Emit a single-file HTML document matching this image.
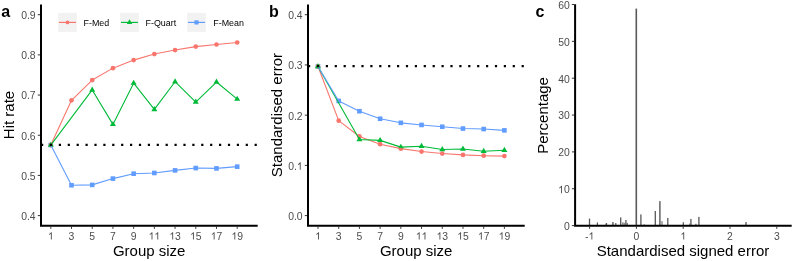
<!DOCTYPE html><html><head><meta charset="utf-8"><style>
html,body{margin:0;padding:0;background:#fff;width:793px;height:261px;overflow:hidden}
svg{display:block;will-change:transform}
text{font-family:"Liberation Sans",sans-serif}
.tk{font-size:10.4px;fill:#4d4d4d}
.ti{font-size:15px;fill:#000}
.lg{font-size:8.9px;fill:#000}
.pl{font-size:16px;font-weight:bold;fill:#000}
</style></head><body>
<svg width="793" height="261" viewBox="0 0 793 261">
<rect width="793" height="261" fill="#fff"/>
<line x1="50.8" y1="226.8" x2="50.8" y2="228.8" stroke="#333333" stroke-width="1"/>
<path transform="translate(47.91,239.6) scale(10.4)" d="M0.3726,0 L0.285,0 L0.285,-0.56 Q0.2,-0.49 0.109,-0.457 L0.109,-0.542 Q0.24,-0.6 0.306,-0.716 L0.3726,-0.716 Z" fill="#4d4d4d"/>
<line x1="71.51" y1="226.8" x2="71.51" y2="228.8" stroke="#333333" stroke-width="1"/>
<text x="68.62" y="239.6" class="tk">3</text>
<line x1="92.22" y1="226.8" x2="92.22" y2="228.8" stroke="#333333" stroke-width="1"/>
<text x="89.33" y="239.6" class="tk">5</text>
<line x1="112.93" y1="226.8" x2="112.93" y2="228.8" stroke="#333333" stroke-width="1"/>
<text x="110.04" y="239.6" class="tk">7</text>
<line x1="133.64" y1="226.8" x2="133.64" y2="228.8" stroke="#333333" stroke-width="1"/>
<text x="130.75" y="239.6" class="tk">9</text>
<line x1="154.35" y1="226.8" x2="154.35" y2="228.8" stroke="#333333" stroke-width="1"/>
<path transform="translate(148.57,239.6) scale(10.4)" d="M0.3726,0 L0.285,0 L0.285,-0.56 Q0.2,-0.49 0.109,-0.457 L0.109,-0.542 Q0.24,-0.6 0.306,-0.716 L0.3726,-0.716 Z" fill="#4d4d4d"/>
<path transform="translate(154.35,239.6) scale(10.4)" d="M0.3726,0 L0.285,0 L0.285,-0.56 Q0.2,-0.49 0.109,-0.457 L0.109,-0.542 Q0.24,-0.6 0.306,-0.716 L0.3726,-0.716 Z" fill="#4d4d4d"/>
<line x1="175.06" y1="226.8" x2="175.06" y2="228.8" stroke="#333333" stroke-width="1"/>
<path transform="translate(169.28,239.6) scale(10.4)" d="M0.3726,0 L0.285,0 L0.285,-0.56 Q0.2,-0.49 0.109,-0.457 L0.109,-0.542 Q0.24,-0.6 0.306,-0.716 L0.3726,-0.716 Z" fill="#4d4d4d"/>
<text x="175.06" y="239.6" class="tk">3</text>
<line x1="195.77" y1="226.8" x2="195.77" y2="228.8" stroke="#333333" stroke-width="1"/>
<path transform="translate(189.99,239.6) scale(10.4)" d="M0.3726,0 L0.285,0 L0.285,-0.56 Q0.2,-0.49 0.109,-0.457 L0.109,-0.542 Q0.24,-0.6 0.306,-0.716 L0.3726,-0.716 Z" fill="#4d4d4d"/>
<text x="195.77" y="239.6" class="tk">5</text>
<line x1="216.48" y1="226.8" x2="216.48" y2="228.8" stroke="#333333" stroke-width="1"/>
<path transform="translate(210.7,239.6) scale(10.4)" d="M0.3726,0 L0.285,0 L0.285,-0.56 Q0.2,-0.49 0.109,-0.457 L0.109,-0.542 Q0.24,-0.6 0.306,-0.716 L0.3726,-0.716 Z" fill="#4d4d4d"/>
<text x="216.48" y="239.6" class="tk">7</text>
<line x1="237.19" y1="226.8" x2="237.19" y2="228.8" stroke="#333333" stroke-width="1"/>
<path transform="translate(231.41,239.6) scale(10.4)" d="M0.3726,0 L0.285,0 L0.285,-0.56 Q0.2,-0.49 0.109,-0.457 L0.109,-0.542 Q0.24,-0.6 0.306,-0.716 L0.3726,-0.716 Z" fill="#4d4d4d"/>
<text x="237.19" y="239.6" class="tk">9</text>
<line x1="40" y1="14.7" x2="37.8" y2="14.7" stroke="#333333" stroke-width="1"/>
<text x="21.14 26.93 29.82" y="19.1" class="tk">0.9</text>
<line x1="40" y1="54.88" x2="37.8" y2="54.88" stroke="#333333" stroke-width="1"/>
<text x="21.14 26.93 29.82" y="59.28" class="tk">0.8</text>
<line x1="40" y1="95.06" x2="37.8" y2="95.06" stroke="#333333" stroke-width="1"/>
<text x="21.14 26.93 29.82" y="99.46" class="tk">0.7</text>
<line x1="40" y1="135.24" x2="37.8" y2="135.24" stroke="#333333" stroke-width="1"/>
<text x="21.14 26.93 29.82" y="139.64" class="tk">0.6</text>
<line x1="40" y1="175.42" x2="37.8" y2="175.42" stroke="#333333" stroke-width="1"/>
<text x="21.14 26.93 29.82" y="179.82" class="tk">0.5</text>
<line x1="40" y1="215.6" x2="37.8" y2="215.6" stroke="#333333" stroke-width="1"/>
<text x="21.14 26.93 29.82" y="220" class="tk">0.4</text>
<path d="M41,4.6 L41,225.8 L257.7,225.8" fill="none" stroke="#000" stroke-width="2" stroke-linejoin="miter" stroke-linecap="butt"/>
<rect x="48.5" y="142.78" width="4.6" height="4.6" fill="#619CFF"/>
<rect x="69.21" y="182.96" width="4.6" height="4.6" fill="#619CFF"/>
<rect x="89.92" y="182.6" width="4.6" height="4.6" fill="#619CFF"/>
<rect x="110.63" y="176.29" width="4.6" height="4.6" fill="#619CFF"/>
<rect x="131.34" y="171.39" width="4.6" height="4.6" fill="#619CFF"/>
<rect x="152.05" y="170.67" width="4.6" height="4.6" fill="#619CFF"/>
<rect x="172.76" y="168.1" width="4.6" height="4.6" fill="#619CFF"/>
<rect x="193.47" y="165.77" width="4.6" height="4.6" fill="#619CFF"/>
<rect x="214.18" y="166.09" width="4.6" height="4.6" fill="#619CFF"/>
<rect x="234.89" y="164.36" width="4.6" height="4.6" fill="#619CFF"/>
<circle cx="50.8" cy="145.08" r="2.35" fill="#F8766D"/>
<circle cx="71.51" cy="100.32" r="2.35" fill="#F8766D"/>
<circle cx="92.22" cy="80.03" r="2.35" fill="#F8766D"/>
<circle cx="112.93" cy="68.14" r="2.35" fill="#F8766D"/>
<circle cx="133.64" cy="60.1" r="2.35" fill="#F8766D"/>
<circle cx="154.35" cy="54.08" r="2.35" fill="#F8766D"/>
<circle cx="175.06" cy="50.06" r="2.35" fill="#F8766D"/>
<circle cx="195.77" cy="46.6" r="2.35" fill="#F8766D"/>
<circle cx="216.48" cy="44.51" r="2.35" fill="#F8766D"/>
<circle cx="237.19" cy="42.5" r="2.35" fill="#F8766D"/>
<path d="M50.8,141.63 L53.79,146.81 L47.81,146.81Z" fill="#00BA38"/>
<path d="M92.22,86.47 L95.21,91.64 L89.23,91.64Z" fill="#00BA38"/>
<path d="M112.93,120.94 L115.92,126.12 L109.94,126.12Z" fill="#00BA38"/>
<path d="M133.64,79.68 L136.63,84.85 L130.65,84.85Z" fill="#00BA38"/>
<path d="M154.35,105.99 L157.34,111.17 L151.36,111.17Z" fill="#00BA38"/>
<path d="M175.06,78.27 L178.05,83.45 L172.07,83.45Z" fill="#00BA38"/>
<path d="M195.77,98.6 L198.76,103.78 L192.78,103.78Z" fill="#00BA38"/>
<path d="M216.48,78.59 L219.47,83.77 L213.49,83.77Z" fill="#00BA38"/>
<path d="M237.19,95.63 L240.18,100.8 L234.2,100.8Z" fill="#00BA38"/>
<path d="M50.8,145.08 L71.51,100.32 L92.22,80.03 L112.93,68.14 L133.64,60.1 L154.35,54.08 L175.06,50.06 L195.77,46.6 L216.48,44.51 L237.19,42.5" fill="none" stroke="#F8766D" stroke-width="1.1" stroke-linejoin="round"/>
<path d="M50.8,145.08 L92.22,89.92 L112.93,124.39 L133.64,83.13 L154.35,109.44 L175.06,81.72 L195.77,102.05 L216.48,82.04 L237.19,99.08" fill="none" stroke="#00BA38" stroke-width="1.1" stroke-linejoin="round"/>
<path d="M50.8,145.08 L71.51,185.26 L92.22,184.9 L112.93,178.59 L133.64,173.69 L154.35,172.97 L175.06,170.4 L195.77,168.07 L216.48,168.39 L237.19,166.66" fill="none" stroke="#619CFF" stroke-width="1.1" stroke-linejoin="round"/>
<line x1="41" y1="144.9" x2="257.7" y2="144.9" stroke="#000" stroke-width="2.2" stroke-dasharray="2.2 6.7"/>
<text x="149.2" y="255.8" text-anchor="middle" class="ti">Group size</text>
<text transform="translate(14.1,115) rotate(-90)" text-anchor="middle" class="ti">Hit rate</text>
<text x="1.2" y="16.6" class="pl">a</text>
<rect x="58.2" y="12.9" width="18.6" height="19" fill="#f2f2f2"/>
<line x1="59" y1="22.4" x2="76" y2="22.4" stroke="#F8766D" stroke-width="1.15"/>
<circle cx="67.5" cy="22.4" r="1.88" fill="#F8766D"/>
<text x="83.6" y="25.8" class="lg">F-Med</text>
<rect x="120.2" y="12.9" width="18.6" height="19" fill="#f2f2f2"/>
<line x1="121" y1="22.4" x2="138" y2="22.4" stroke="#00BA38" stroke-width="1.15"/>
<path d="M129.5,19.29 L132.19,23.95 L126.81,23.95Z" fill="#00BA38"/>
<text x="145.6" y="25.8" class="lg">F-Quart</text>
<rect x="187.2" y="12.9" width="18.6" height="19" fill="#f2f2f2"/>
<line x1="188" y1="22.4" x2="205" y2="22.4" stroke="#619CFF" stroke-width="1.15"/>
<rect x="194.43" y="20.33" width="4.14" height="4.14" fill="#619CFF"/>
<text x="213.3" y="25.8" class="lg">F-Mean</text>
<line x1="318" y1="226.8" x2="318" y2="228.8" stroke="#333333" stroke-width="1"/>
<path transform="translate(315.11,239.6) scale(10.4)" d="M0.3726,0 L0.285,0 L0.285,-0.56 Q0.2,-0.49 0.109,-0.457 L0.109,-0.542 Q0.24,-0.6 0.306,-0.716 L0.3726,-0.716 Z" fill="#4d4d4d"/>
<line x1="338.71" y1="226.8" x2="338.71" y2="228.8" stroke="#333333" stroke-width="1"/>
<text x="335.82" y="239.6" class="tk">3</text>
<line x1="359.42" y1="226.8" x2="359.42" y2="228.8" stroke="#333333" stroke-width="1"/>
<text x="356.53" y="239.6" class="tk">5</text>
<line x1="380.13" y1="226.8" x2="380.13" y2="228.8" stroke="#333333" stroke-width="1"/>
<text x="377.24" y="239.6" class="tk">7</text>
<line x1="400.84" y1="226.8" x2="400.84" y2="228.8" stroke="#333333" stroke-width="1"/>
<text x="397.95" y="239.6" class="tk">9</text>
<line x1="421.55" y1="226.8" x2="421.55" y2="228.8" stroke="#333333" stroke-width="1"/>
<path transform="translate(415.77,239.6) scale(10.4)" d="M0.3726,0 L0.285,0 L0.285,-0.56 Q0.2,-0.49 0.109,-0.457 L0.109,-0.542 Q0.24,-0.6 0.306,-0.716 L0.3726,-0.716 Z" fill="#4d4d4d"/>
<path transform="translate(421.55,239.6) scale(10.4)" d="M0.3726,0 L0.285,0 L0.285,-0.56 Q0.2,-0.49 0.109,-0.457 L0.109,-0.542 Q0.24,-0.6 0.306,-0.716 L0.3726,-0.716 Z" fill="#4d4d4d"/>
<line x1="442.26" y1="226.8" x2="442.26" y2="228.8" stroke="#333333" stroke-width="1"/>
<path transform="translate(436.48,239.6) scale(10.4)" d="M0.3726,0 L0.285,0 L0.285,-0.56 Q0.2,-0.49 0.109,-0.457 L0.109,-0.542 Q0.24,-0.6 0.306,-0.716 L0.3726,-0.716 Z" fill="#4d4d4d"/>
<text x="442.26" y="239.6" class="tk">3</text>
<line x1="462.97" y1="226.8" x2="462.97" y2="228.8" stroke="#333333" stroke-width="1"/>
<path transform="translate(457.19,239.6) scale(10.4)" d="M0.3726,0 L0.285,0 L0.285,-0.56 Q0.2,-0.49 0.109,-0.457 L0.109,-0.542 Q0.24,-0.6 0.306,-0.716 L0.3726,-0.716 Z" fill="#4d4d4d"/>
<text x="462.97" y="239.6" class="tk">5</text>
<line x1="483.68" y1="226.8" x2="483.68" y2="228.8" stroke="#333333" stroke-width="1"/>
<path transform="translate(477.9,239.6) scale(10.4)" d="M0.3726,0 L0.285,0 L0.285,-0.56 Q0.2,-0.49 0.109,-0.457 L0.109,-0.542 Q0.24,-0.6 0.306,-0.716 L0.3726,-0.716 Z" fill="#4d4d4d"/>
<text x="483.68" y="239.6" class="tk">7</text>
<line x1="504.39" y1="226.8" x2="504.39" y2="228.8" stroke="#333333" stroke-width="1"/>
<path transform="translate(498.61,239.6) scale(10.4)" d="M0.3726,0 L0.285,0 L0.285,-0.56 Q0.2,-0.49 0.109,-0.457 L0.109,-0.542 Q0.24,-0.6 0.306,-0.716 L0.3726,-0.716 Z" fill="#4d4d4d"/>
<text x="504.39" y="239.6" class="tk">9</text>
<line x1="307" y1="14.7" x2="304.8" y2="14.7" stroke="#333333" stroke-width="1"/>
<text x="288.14 293.93 296.82" y="19.1" class="tk">0.4</text>
<line x1="307" y1="64.93" x2="304.8" y2="64.93" stroke="#333333" stroke-width="1"/>
<text x="288.14 293.93 296.82" y="69.33" class="tk">0.3</text>
<line x1="307" y1="115.15" x2="304.8" y2="115.15" stroke="#333333" stroke-width="1"/>
<text x="288.14 293.93 296.82" y="119.55" class="tk">0.2</text>
<line x1="307" y1="165.38" x2="304.8" y2="165.38" stroke="#333333" stroke-width="1"/>
<path transform="translate(296.82,169.78) scale(10.4)" d="M0.3726,0 L0.285,0 L0.285,-0.56 Q0.2,-0.49 0.109,-0.457 L0.109,-0.542 Q0.24,-0.6 0.306,-0.716 L0.3726,-0.716 Z" fill="#4d4d4d"/>
<text x="288.14 293.93" y="169.78" class="tk">0.</text>
<line x1="307" y1="215.6" x2="304.8" y2="215.6" stroke="#333333" stroke-width="1"/>
<text x="288.14 293.93 296.82" y="220" class="tk">0.0</text>
<path d="M308,4.6 L308,225.8 L524.7,225.8" fill="none" stroke="#000" stroke-width="2" stroke-linejoin="miter" stroke-linecap="butt"/>
<rect x="315.7" y="64.13" width="4.6" height="4.6" fill="#619CFF"/>
<rect x="336.41" y="98.64" width="4.6" height="4.6" fill="#619CFF"/>
<rect x="357.12" y="108.93" width="4.6" height="4.6" fill="#619CFF"/>
<rect x="377.83" y="116.47" width="4.6" height="4.6" fill="#619CFF"/>
<rect x="398.54" y="120.53" width="4.6" height="4.6" fill="#619CFF"/>
<rect x="419.25" y="122.64" width="4.6" height="4.6" fill="#619CFF"/>
<rect x="439.96" y="124.45" width="4.6" height="4.6" fill="#619CFF"/>
<rect x="460.67" y="126.26" width="4.6" height="4.6" fill="#619CFF"/>
<rect x="481.38" y="126.76" width="4.6" height="4.6" fill="#619CFF"/>
<rect x="502.09" y="128.07" width="4.6" height="4.6" fill="#619CFF"/>
<circle cx="318" cy="66.43" r="2.35" fill="#F8766D"/>
<circle cx="338.71" cy="120.67" r="2.35" fill="#F8766D"/>
<circle cx="359.42" cy="136.45" r="2.35" fill="#F8766D"/>
<circle cx="380.13" cy="144.18" r="2.35" fill="#F8766D"/>
<circle cx="400.84" cy="148.65" r="2.35" fill="#F8766D"/>
<circle cx="421.55" cy="151.56" r="2.35" fill="#F8766D"/>
<circle cx="442.26" cy="153.57" r="2.35" fill="#F8766D"/>
<circle cx="462.97" cy="154.88" r="2.35" fill="#F8766D"/>
<circle cx="483.68" cy="155.68" r="2.35" fill="#F8766D"/>
<circle cx="504.39" cy="156.08" r="2.35" fill="#F8766D"/>
<path d="M318,62.98 L320.99,68.16 L315.01,68.16Z" fill="#00BA38"/>
<path d="M359.42,136.11 L362.41,141.28 L356.43,141.28Z" fill="#00BA38"/>
<path d="M380.13,136.91 L383.12,142.09 L377.14,142.09Z" fill="#00BA38"/>
<path d="M400.84,143.69 L403.83,148.87 L397.85,148.87Z" fill="#00BA38"/>
<path d="M421.55,142.84 L424.54,148.01 L418.56,148.01Z" fill="#00BA38"/>
<path d="M442.26,146 L445.25,151.18 L439.27,151.18Z" fill="#00BA38"/>
<path d="M462.97,145.6 L465.96,150.78 L459.98,150.78Z" fill="#00BA38"/>
<path d="M483.68,147.86 L486.67,153.04 L480.69,153.04Z" fill="#00BA38"/>
<path d="M504.39,146.86 L507.38,152.03 L501.4,152.03Z" fill="#00BA38"/>
<path d="M318,66.43 L338.71,120.67 L359.42,136.45 L380.13,144.18 L400.84,148.65 L421.55,151.56 L442.26,153.57 L462.97,154.88 L483.68,155.68 L504.39,156.08" fill="none" stroke="#F8766D" stroke-width="1.1" stroke-linejoin="round"/>
<path d="M318,66.43 L359.42,139.56 L380.13,140.36 L400.84,147.14 L421.55,146.29 L442.26,149.45 L462.97,149.05 L483.68,151.31 L504.39,150.31" fill="none" stroke="#00BA38" stroke-width="1.1" stroke-linejoin="round"/>
<path d="M318,66.43 L338.71,100.94 L359.42,111.23 L380.13,118.77 L400.84,122.83 L421.55,124.94 L442.26,126.75 L462.97,128.56 L483.68,129.06 L504.39,130.37" fill="none" stroke="#619CFF" stroke-width="1.1" stroke-linejoin="round"/>
<line x1="308" y1="66.1" x2="524.7" y2="66.1" stroke="#000" stroke-width="2.2" stroke-dasharray="2.2 6.7"/>
<text x="416.2" y="255.8" text-anchor="middle" class="ti">Group size</text>
<text transform="translate(282,115.1) rotate(-90)" text-anchor="middle" class="ti">Standardised error</text>
<text x="268.9" y="16.6" class="pl">b</text>
<rect x="588.85" y="218.6" width="1.3" height="7" fill="#595959"/>
<rect x="596.8" y="222.4" width="1.2" height="3.2" fill="#595959"/>
<rect x="605.3" y="223.6" width="1" height="2" fill="#8a8a8a"/>
<rect x="605.9" y="223" width="1.2" height="2.6" fill="#595959"/>
<rect x="612" y="222.1" width="1.8" height="3.5" fill="#7a7a7a"/>
<rect x="615.2" y="223" width="1.2" height="2.6" fill="#595959"/>
<rect x="620.05" y="217.4" width="1.3" height="8.2" fill="#595959"/>
<rect x="622.1" y="222.3" width="1.4" height="3.3" fill="#8a8a8a"/>
<rect x="623.6" y="222.8" width="1.2" height="2.8" fill="#7a7a7a"/>
<rect x="625.25" y="220" width="1.3" height="5.6" fill="#595959"/>
<rect x="626.7" y="223" width="1.2" height="2.6" fill="#6a6a6a"/>
<rect x="635.5" y="8.6" width="1.6" height="217" fill="#595959"/>
<rect x="640.25" y="214.4" width="1.3" height="11.2" fill="#595959"/>
<rect x="643.6" y="224.2" width="1.2" height="1.4" fill="#8a8a8a"/>
<rect x="654.65" y="211" width="1.3" height="14.6" fill="#595959"/>
<rect x="659.2" y="201.1" width="1.4" height="24.5" fill="#595959"/>
<rect x="661.3" y="221.1" width="1.4" height="4.5" fill="#8a8a8a"/>
<rect x="667.15" y="218" width="1.3" height="7.6" fill="#595959"/>
<rect x="682.7" y="222.2" width="1.2" height="3.4" fill="#595959"/>
<rect x="689.15" y="223.5" width="1.1" height="2.1" fill="#8a8a8a"/>
<rect x="690.25" y="218.9" width="1.3" height="6.7" fill="#595959"/>
<rect x="695.3" y="223.8" width="1.2" height="1.8" fill="#6a6a6a"/>
<rect x="698.25" y="216.9" width="1.3" height="8.7" fill="#595959"/>
<rect x="745.35" y="222" width="1.3" height="3.6" fill="#595959"/>
<line x1="589.6" y1="226.8" x2="589.6" y2="228.8" stroke="#333333" stroke-width="1"/>
<path transform="translate(588.44,239.6) scale(10.4)" d="M0.3726,0 L0.285,0 L0.285,-0.56 Q0.2,-0.49 0.109,-0.457 L0.109,-0.542 Q0.24,-0.6 0.306,-0.716 L0.3726,-0.716 Z" fill="#4d4d4d"/>
<text x="584.98" y="239.6" class="tk">-</text>
<line x1="636.4" y1="226.8" x2="636.4" y2="228.8" stroke="#333333" stroke-width="1"/>
<text x="633.51" y="239.6" class="tk">0</text>
<line x1="683.2" y1="226.8" x2="683.2" y2="228.8" stroke="#333333" stroke-width="1"/>
<path transform="translate(680.31,239.6) scale(10.4)" d="M0.3726,0 L0.285,0 L0.285,-0.56 Q0.2,-0.49 0.109,-0.457 L0.109,-0.542 Q0.24,-0.6 0.306,-0.716 L0.3726,-0.716 Z" fill="#4d4d4d"/>
<line x1="730" y1="226.8" x2="730" y2="228.8" stroke="#333333" stroke-width="1"/>
<text x="727.11" y="239.6" class="tk">2</text>
<line x1="776.8" y1="226.8" x2="776.8" y2="228.8" stroke="#333333" stroke-width="1"/>
<text x="773.91" y="239.6" class="tk">3</text>
<line x1="574.1" y1="4.5" x2="571.9" y2="4.5" stroke="#333333" stroke-width="1"/>
<text x="558.14 563.92" y="8.9" class="tk">60</text>
<line x1="574.1" y1="41.35" x2="571.9" y2="41.35" stroke="#333333" stroke-width="1"/>
<text x="558.14 563.92" y="45.75" class="tk">50</text>
<line x1="574.1" y1="78.2" x2="571.9" y2="78.2" stroke="#333333" stroke-width="1"/>
<text x="558.14 563.92" y="82.6" class="tk">40</text>
<line x1="574.1" y1="115.05" x2="571.9" y2="115.05" stroke="#333333" stroke-width="1"/>
<text x="558.14 563.92" y="119.45" class="tk">30</text>
<line x1="574.1" y1="151.9" x2="571.9" y2="151.9" stroke="#333333" stroke-width="1"/>
<text x="558.14 563.92" y="156.3" class="tk">20</text>
<line x1="574.1" y1="188.75" x2="571.9" y2="188.75" stroke="#333333" stroke-width="1"/>
<path transform="translate(558.14,193.15) scale(10.4)" d="M0.3726,0 L0.285,0 L0.285,-0.56 Q0.2,-0.49 0.109,-0.457 L0.109,-0.542 Q0.24,-0.6 0.306,-0.716 L0.3726,-0.716 Z" fill="#4d4d4d"/>
<text x="563.92" y="193.15" class="tk">0</text>
<line x1="574.1" y1="225.6" x2="571.9" y2="225.6" stroke="#333333" stroke-width="1"/>
<text x="563.92" y="230" class="tk">0</text>
<path d="M575.1,4.3 L575.1,225.8 L791.7,225.8" fill="none" stroke="#000" stroke-width="2" stroke-linejoin="miter" stroke-linecap="butt"/>
<text x="683" y="255.8" text-anchor="middle" class="ti">Standardised signed error</text>
<text transform="translate(548.4,115.4) rotate(-90)" text-anchor="middle" class="ti">Percentage</text>
<text x="535.5" y="16.6" class="pl">c</text>
</svg></body></html>
